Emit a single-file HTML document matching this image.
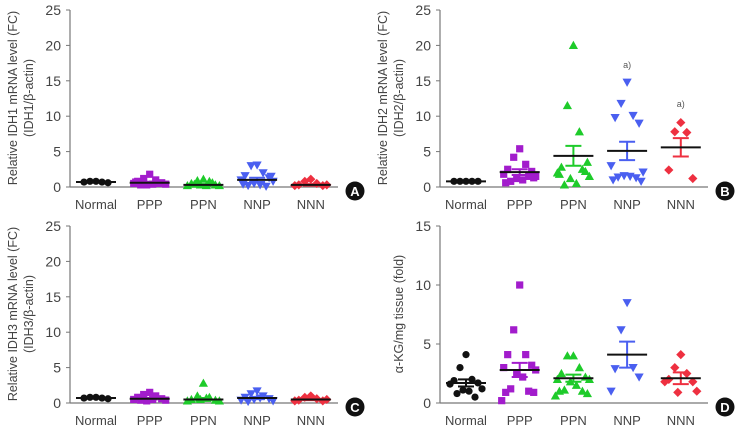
<!DOCTYPE html>
<html><head><meta charset="utf-8"><style>
html,body{margin:0;padding:0;background:#fff;}
svg{display:block;font-family:"Liberation Sans",sans-serif;}
</style></head><body>
<svg id="fig" width="740" height="433" viewBox="0 0 740 433"></svg>
<script>
const categories = ["Normal","PPP","PPN","NNP","NNN"];
// Panel A
const aNormal=[0.8,0.8,0.7,0.7,0.6];
const aPPP=[1.8,1.2,1.0,0.8,0.6,0.5,0.4,0.3,0.4,0.3,0.5,0.7];
const aPPN=[1.1,0.9,0.8,0.5,0.3,0.2,0.2,0.3,0.2,0.4,0.6];
const aNNP=[3.1,3.0,2.0,1.6,1.3,1.0,0.8,0.5,0.3,0.2,0.1,0.4,1.5];
const aNNN=[1.1,0.8,0.5,0.3,0.2,0.2,0.3];
const aMeans=[0.7,0.6,0.3,1.0,0.3];
const aSem=[0.05,0.15,0.1,0.3,0.1];
// Panel B
const bNormal=[0.8,0.8,0.8,0.8,0.8];
const bPPP=[5.4,4.2,3.2,2.5,2.2,1.8,1.5,1.2,1.0,0.8,1.5,0.6,1.3];
const bPPN=[20,11.5,7.8,2.8,2.2,2.0,1.5,1.2,0.5,0.3,2.5,1.8,3.5];
const bNNP=[14.8,11.8,10.1,9.8,9.0,3.0,2.1,1.6,1.5,1.4,1.3,1.0,0.8];
const bNNN=[9.1,7.8,7.7,2.4,1.2];
const bMeans=[0.8,2.1,4.4,5.1,5.6];
const bSem=[0,0.4,1.4,1.3,1.3];
// Panel C
const cNormal=[0.8,0.8,0.7,0.7,0.6];
const cPPP=[1.5,1.2,1.0,0.8,0.6,0.5,0.4,0.3,0.5,0.4];
const cPPN=[2.8,1.0,0.8,0.5,0.4,0.3,0.3,0.5,0.7];
const cNNP=[1.7,1.3,1.0,0.8,0.6,0.4,0.3,0.5,0.7,0.2];
const cNNN=[1.0,0.8,0.6,0.4,0.3,0.3,0.5];
const cMeans=[0.7,0.6,0.5,0.7,0.5];
const cSem=[0.05,0.1,0.2,0.15,0.1];
// Panel D
const dNormal=[4.1,3.0,2.0,1.9,1.7,1.6,1.2,1.1,1.0,0.8,0.5];
const dPPP=[10,6.2,4.1,4.1,3.2,3.0,2.8,2.5,2.2,1.2,1.0,0.9,0.9,0.2];
const dPPN=[4.0,4.0,3.0,2.5,2.2,2.0,2.0,1.8,1.5,1.1,1.0,1.0,0.8,0.6];
const dNNP=[8.5,6.2,3.0,2.9,2.2,1.0];
const dNNN=[4.1,3.0,2.5,2.0,1.8,1.8,1.0,0.9];
const dMeans=[1.7,2.8,2.1,4.1,2.1];
const dSem=[0.3,0.6,0.3,1.1,0.5];
const yTicksIDH=[0,5,10,15,20,25];
const yTicksKG=[0,5,10,15];

const colors=["#111","#a21ccc","#1ecb2a","#4a5ff0","#ee3040"];
const shapes=["circle","square","triUp","triDown","diamond"];
const jit=[0,-6,6,-12,12,-16,16,-3,3,-9,9,-14,14,-18,18];
const NS="http://www.w3.org/2000/svg";
const svg=document.getElementById("fig");
function el(t,a,p){const e=document.createElementNS(NS,t);for(const k in a)e.setAttribute(k,a[k]);(p||svg).appendChild(e);return e;}

function panel(ox,oy,letter,series,means,sems,ticks,ymax,titleLines,ann){
  const g=el("g",{transform:`translate(${ox},${oy})`});
  
  
  const x0=70,x1=338,yTop=10,yBot=187;
  const y=v=>yBot-(v/ymax)*(yBot-yTop);
  const xc=i=>96+i*53.7;
  el("line",{x1:x0,y1:yTop,x2:x0,y2:yBot,stroke:"#777","stroke-width":1.2},g);
  el("line",{x1:x0,y1:yBot,x2:x1,y2:yBot,stroke:"#777","stroke-width":1.2},g);
  ticks.forEach(t=>{
    el("line",{x1:x0-4,y1:y(t),x2:x0,y2:y(t),stroke:"#777"},g);
    const tx=el("text",{x:x0-9,y:y(t)+5,"text-anchor":"end","font-size":14,fill:"#444"},g);
    tx.textContent=t;
    
    
  });
  categories.forEach((c,i)=>{
    const tx=el("text",{x:xc(i),y:209,"text-anchor":"middle","font-size":13,fill:"#444"},g);
    tx.textContent=c;
    
    
  });
  const tg=el("text",{transform:`translate(${titleLines.length>1?17:33},98) rotate(-90)`,"text-anchor":"middle","font-size":12.5,fill:"#444"},g);
  
  
  titleLines.forEach((l,k)=>{const s=el("tspan",{x:0,dy:k?16:0},tg);s.textContent=l;});
  series.forEach((vals,i)=>{
    const col=colors[i],sh=shapes[i];
    vals.forEach((v,j)=>{
      const off=jit[j%jit.length];
      const cx=xc(i)+off,cy=y(v),r=3.6;let m;
      if(sh==="circle")m=el("circle",{cx,cy,r},g);
      else if(sh==="square")m=el("rect",{x:cx-r,y:cy-r,width:2*r,height:2*r},g);
      else if(sh==="triUp")m=el("polygon",{points:`${cx},${cy-r-1} ${cx-r-1},${cy+r} ${cx+r+1},${cy+r}`},g);
      else if(sh==="triDown")m=el("polygon",{points:`${cx},${cy+r+1} ${cx-r-1},${cy-r} ${cx+r+1},${cy-r}`},g);
      else m=el("polygon",{points:`${cx},${cy-r-1} ${cx+r+1},${cy} ${cx},${cy+r+1} ${cx-r-1},${cy}`},g);
      m.setAttribute("fill",col);
      
      
    });
    const mx=xc(i),my=y(means[i]),hi=y(means[i]+sems[i]),lo=y(Math.max(0,means[i]-sems[i]));
    el("line",{x1:mx,y1:hi,x2:mx,y2:lo,stroke:col,"stroke-width":2},g);
    el("line",{x1:mx-8,y1:hi,x2:mx+8,y2:hi,stroke:col,"stroke-width":2},g);
    el("line",{x1:mx-8,y1:lo,x2:mx+8,y2:lo,stroke:col,"stroke-width":2},g);
    const ml=el("line",{x1:mx-20,y1:my,x2:mx+20,y2:my,stroke:"#111","stroke-width":2},g);
    
    
  });
  (ann||[]).forEach(a=>{
    const t=el("text",{x:xc(a[0]),y:y(a[1]),"text-anchor":"middle","font-size":9,fill:"#555"},g);
    t.textContent="a)";
    
    
  });
  const bc=el("circle",{cx:355,cy:191,r:9.5,fill:"#111"},g);
  
  
  const bt=el("text",{x:355,y:196,"text-anchor":"middle","font-size":13,"font-weight":"bold",fill:"#fff"},g);
  bt.textContent=letter;
}
panel(0,0,"A",[aNormal,aPPP,aPPN,aNNP,aNNN],aMeans,aSem,yTicksIDH,25,["Relative IDH1 mRNA level (FC)","(IDH1/β-actin)"]);
panel(370,0,"B",[bNormal,bPPP,bPPN,bNNP,bNNN],bMeans,bSem,yTicksIDH,25,["Relative IDH2 mRNA level (FC)","(IDH2/β-actin)"],[[3,16.8],[4,11.3]]);
panel(0,216,"C",[cNormal,cPPP,cPPN,cNNP,cNNN],cMeans,cSem,yTicksIDH,25,["Relative IDH3 mRNA level (FC)","(IDH3/β-actin)"]);
panel(370,216,"D",[dNormal,dPPP,dPPN,dNNP,dNNN],dMeans,dSem,yTicksKG,15,["α-KG/mg tissue (fold)"]);
</script>
</body></html>
